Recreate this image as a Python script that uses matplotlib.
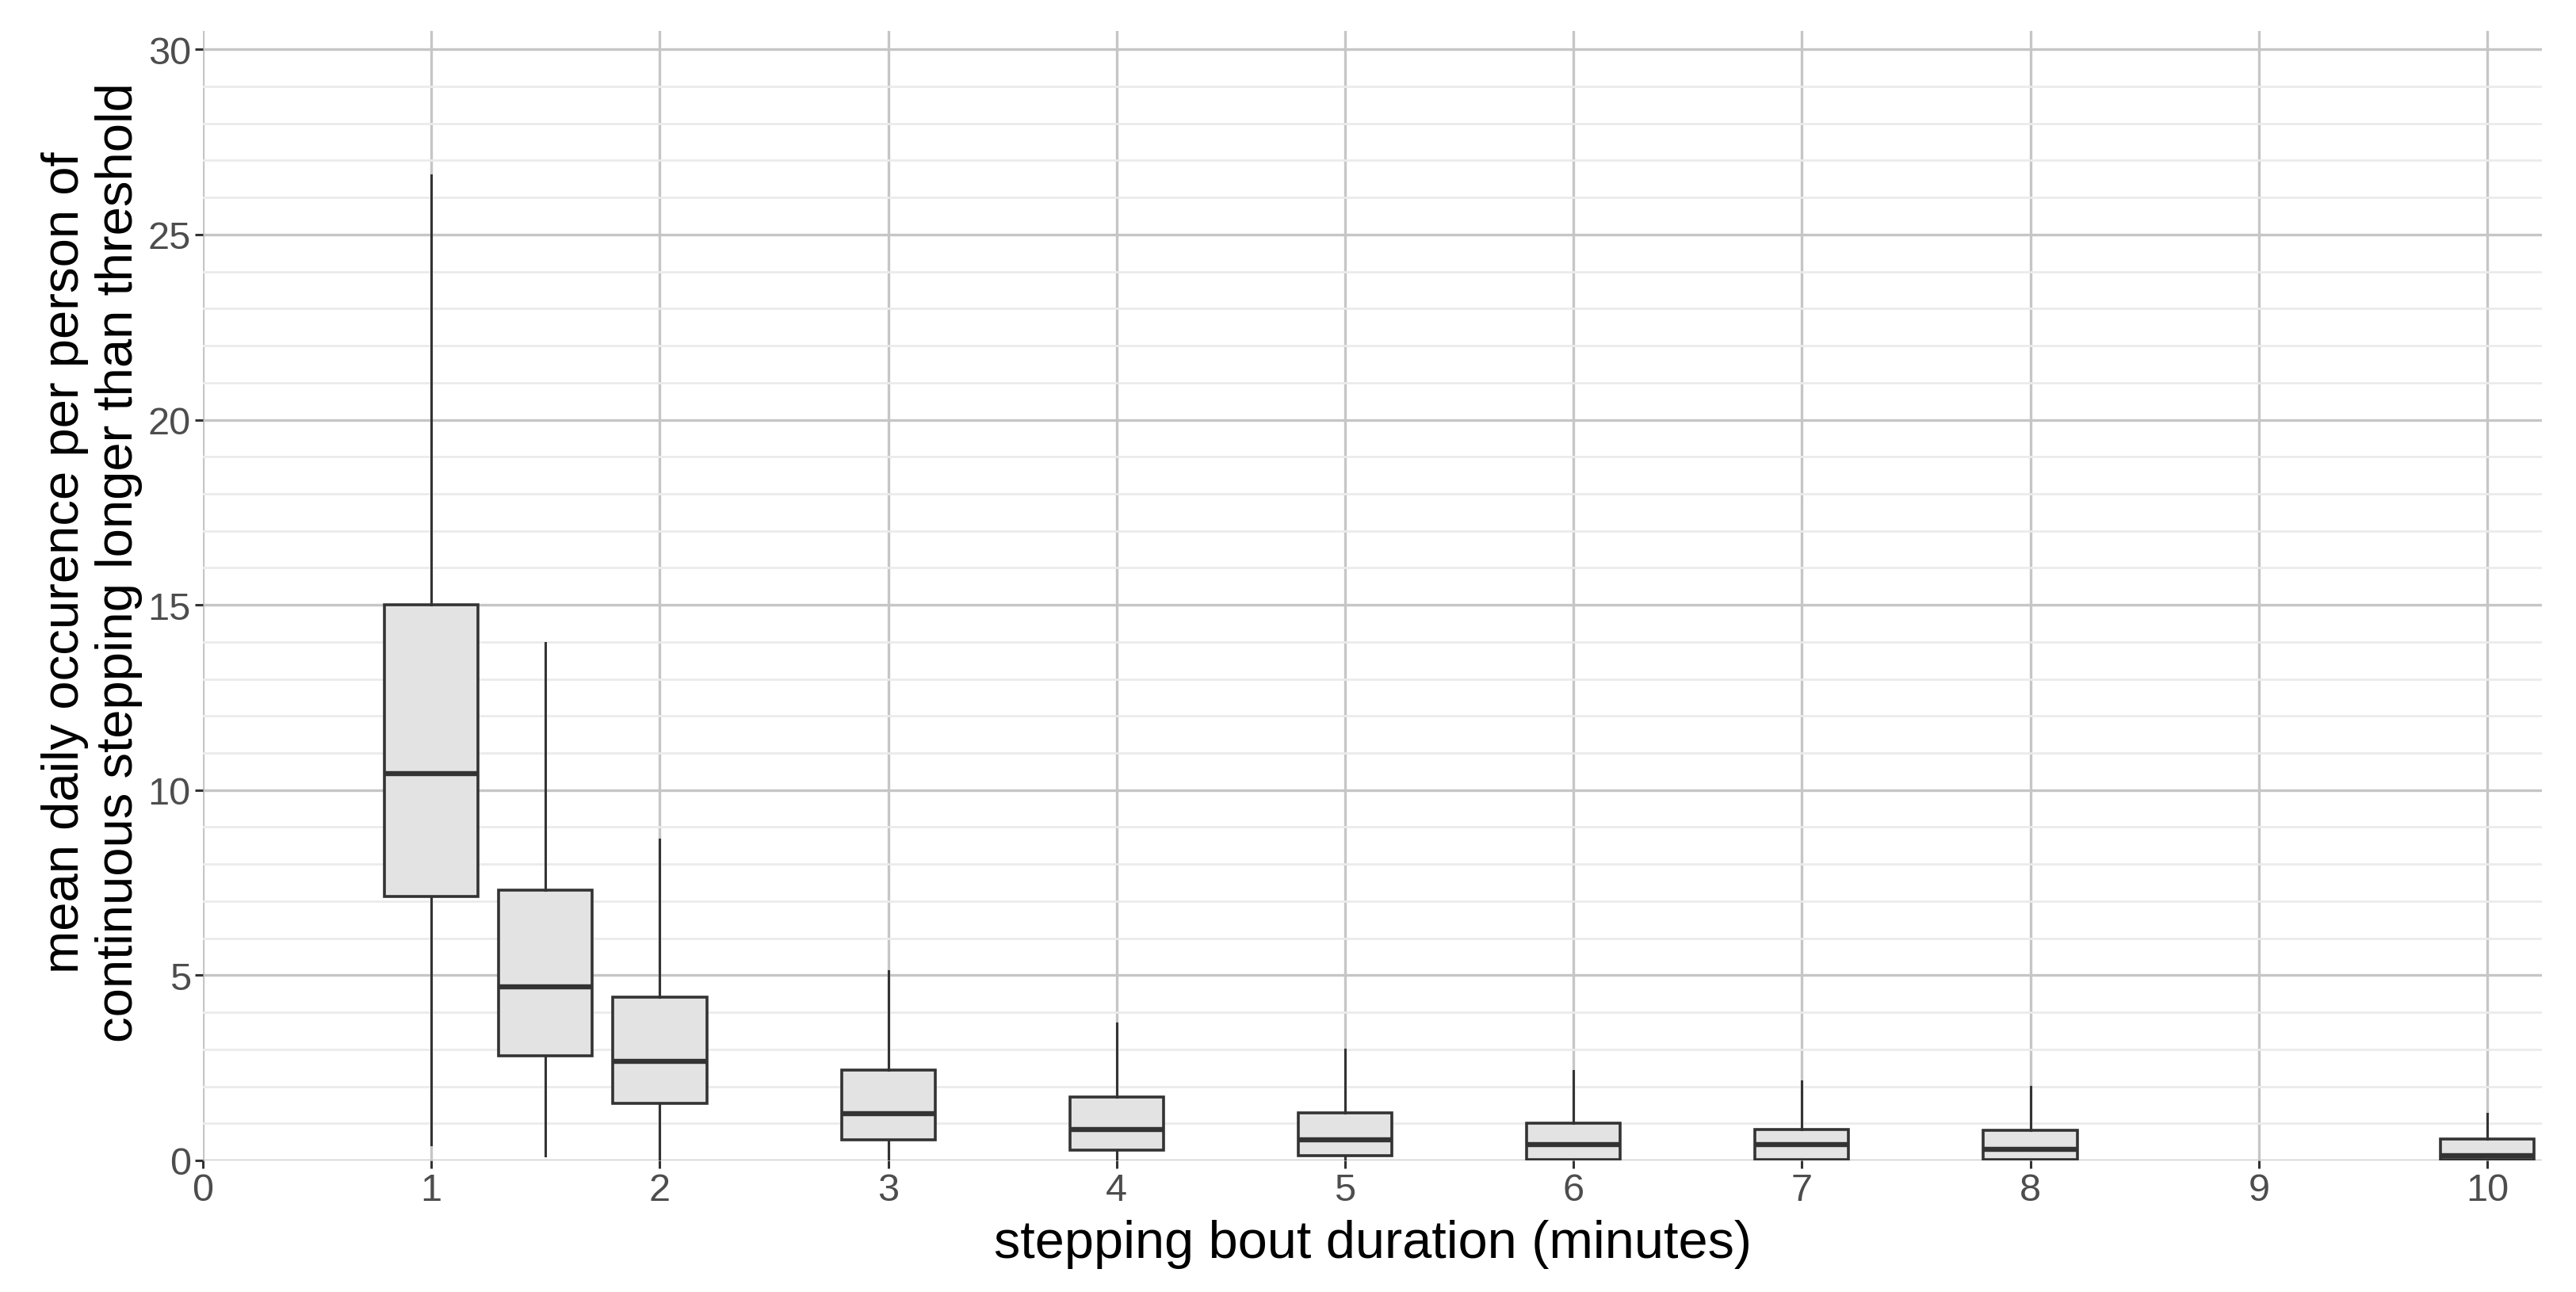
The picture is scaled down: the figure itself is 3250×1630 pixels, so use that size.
import matplotlib

matplotlib.use("Agg")
import matplotlib.pyplot as plt
from matplotlib.ticker import MultipleLocator

# box summary per stepping bout duration (minutes)
durations = [1, 1.5, 2, 3, 4, 5, 6, 7, 8, 10]
whisker_low = [0.42, 0.12, 0.0, 0.0, 0.0, 0.0, 0.0, 0.0, 0.0, 0.0]
q1 = [7.13, 2.82, 1.54, 0.55, 0.27, 0.13, 0.02, 0.01, 0.01, 0.01]
median = [10.44, 4.69, 2.68, 1.27, 0.84, 0.56, 0.42, 0.43, 0.29, 0.13]
q3 = [15.0, 7.30, 4.40, 2.43, 1.72, 1.29, 1.00, 0.84, 0.82, 0.58]
whisker_high = [26.6, 13.97, 8.67, 5.12, 3.71, 2.99, 2.41, 2.15, 1.99, 1.26]

x_ticks = list(range(0, 11))
y_ticks = [0, 5, 10, 15, 20, 25, 30]

XLABEL = "stepping bout duration (minutes)"
YLABEL = "mean daily occurence per person of\ncontinuous stepping longer than threshold"

plt.rcParams["font.family"] = ["Liberation Sans", "DejaVu Sans"]

fig = plt.figure(figsize=(32.5, 16.31), dpi=100)
ax = fig.add_axes([0.0788, 0.1018, 0.9868 - 0.0788, 0.9755 - 0.1018])

stats = [
    {"whislo": lo, "q1": a, "med": m, "q3": b, "whishi": hi, "fliers": []}
    for lo, a, m, b, hi in zip(whisker_low, q1, median, q3, whisker_high)
]
ax.bxp(
    stats,
    positions=durations,
    widths=0.41,
    patch_artist=True,
    showcaps=False,
    showfliers=False,
    boxprops={"facecolor": "#e3e3e3", "edgecolor": "#333333", "linewidth": 2.6},
    medianprops={"color": "#333333", "linewidth": 4.6, "solid_capstyle": "butt"},
    whiskerprops={"color": "#333333", "linewidth": 2.2},
    zorder=3,
)

ax.set_xlim(0, 10.24)
ax.set_ylim(0, 30.5)
ax.set_xticks(x_ticks, [str(v) for v in x_ticks])
ax.set_yticks(y_ticks, [str(v) for v in y_ticks])
ax.yaxis.set_minor_locator(MultipleLocator(1))

ax.grid(True, which="major", color="#c6c6c6", linewidth=2.4, zorder=0)
ax.grid(True, which="minor", axis="y", color="#ebebeb", linewidth=2.0, zorder=0)
ax.set_axisbelow(True)
for spine in ax.spines.values():
    spine.set_visible(False)

ax.tick_params(axis="both", which="major", length=7, width=2.2, color="#333333",
               labelsize=35, labelcolor="#4d4d4d", pad=4)
ax.tick_params(axis="y", which="minor", length=0)

ax.set_xlabel(XLABEL, fontsize=48, color="black", labelpad=10)
ax.set_ylabel(YLABEL, fontsize=47, color="black", labelpad=5, linespacing=1.17)
# the label sits a little above the panel centre in the original
ax.yaxis.label.set_y(0.53)

fig.savefig("out.png", dpi=100)
